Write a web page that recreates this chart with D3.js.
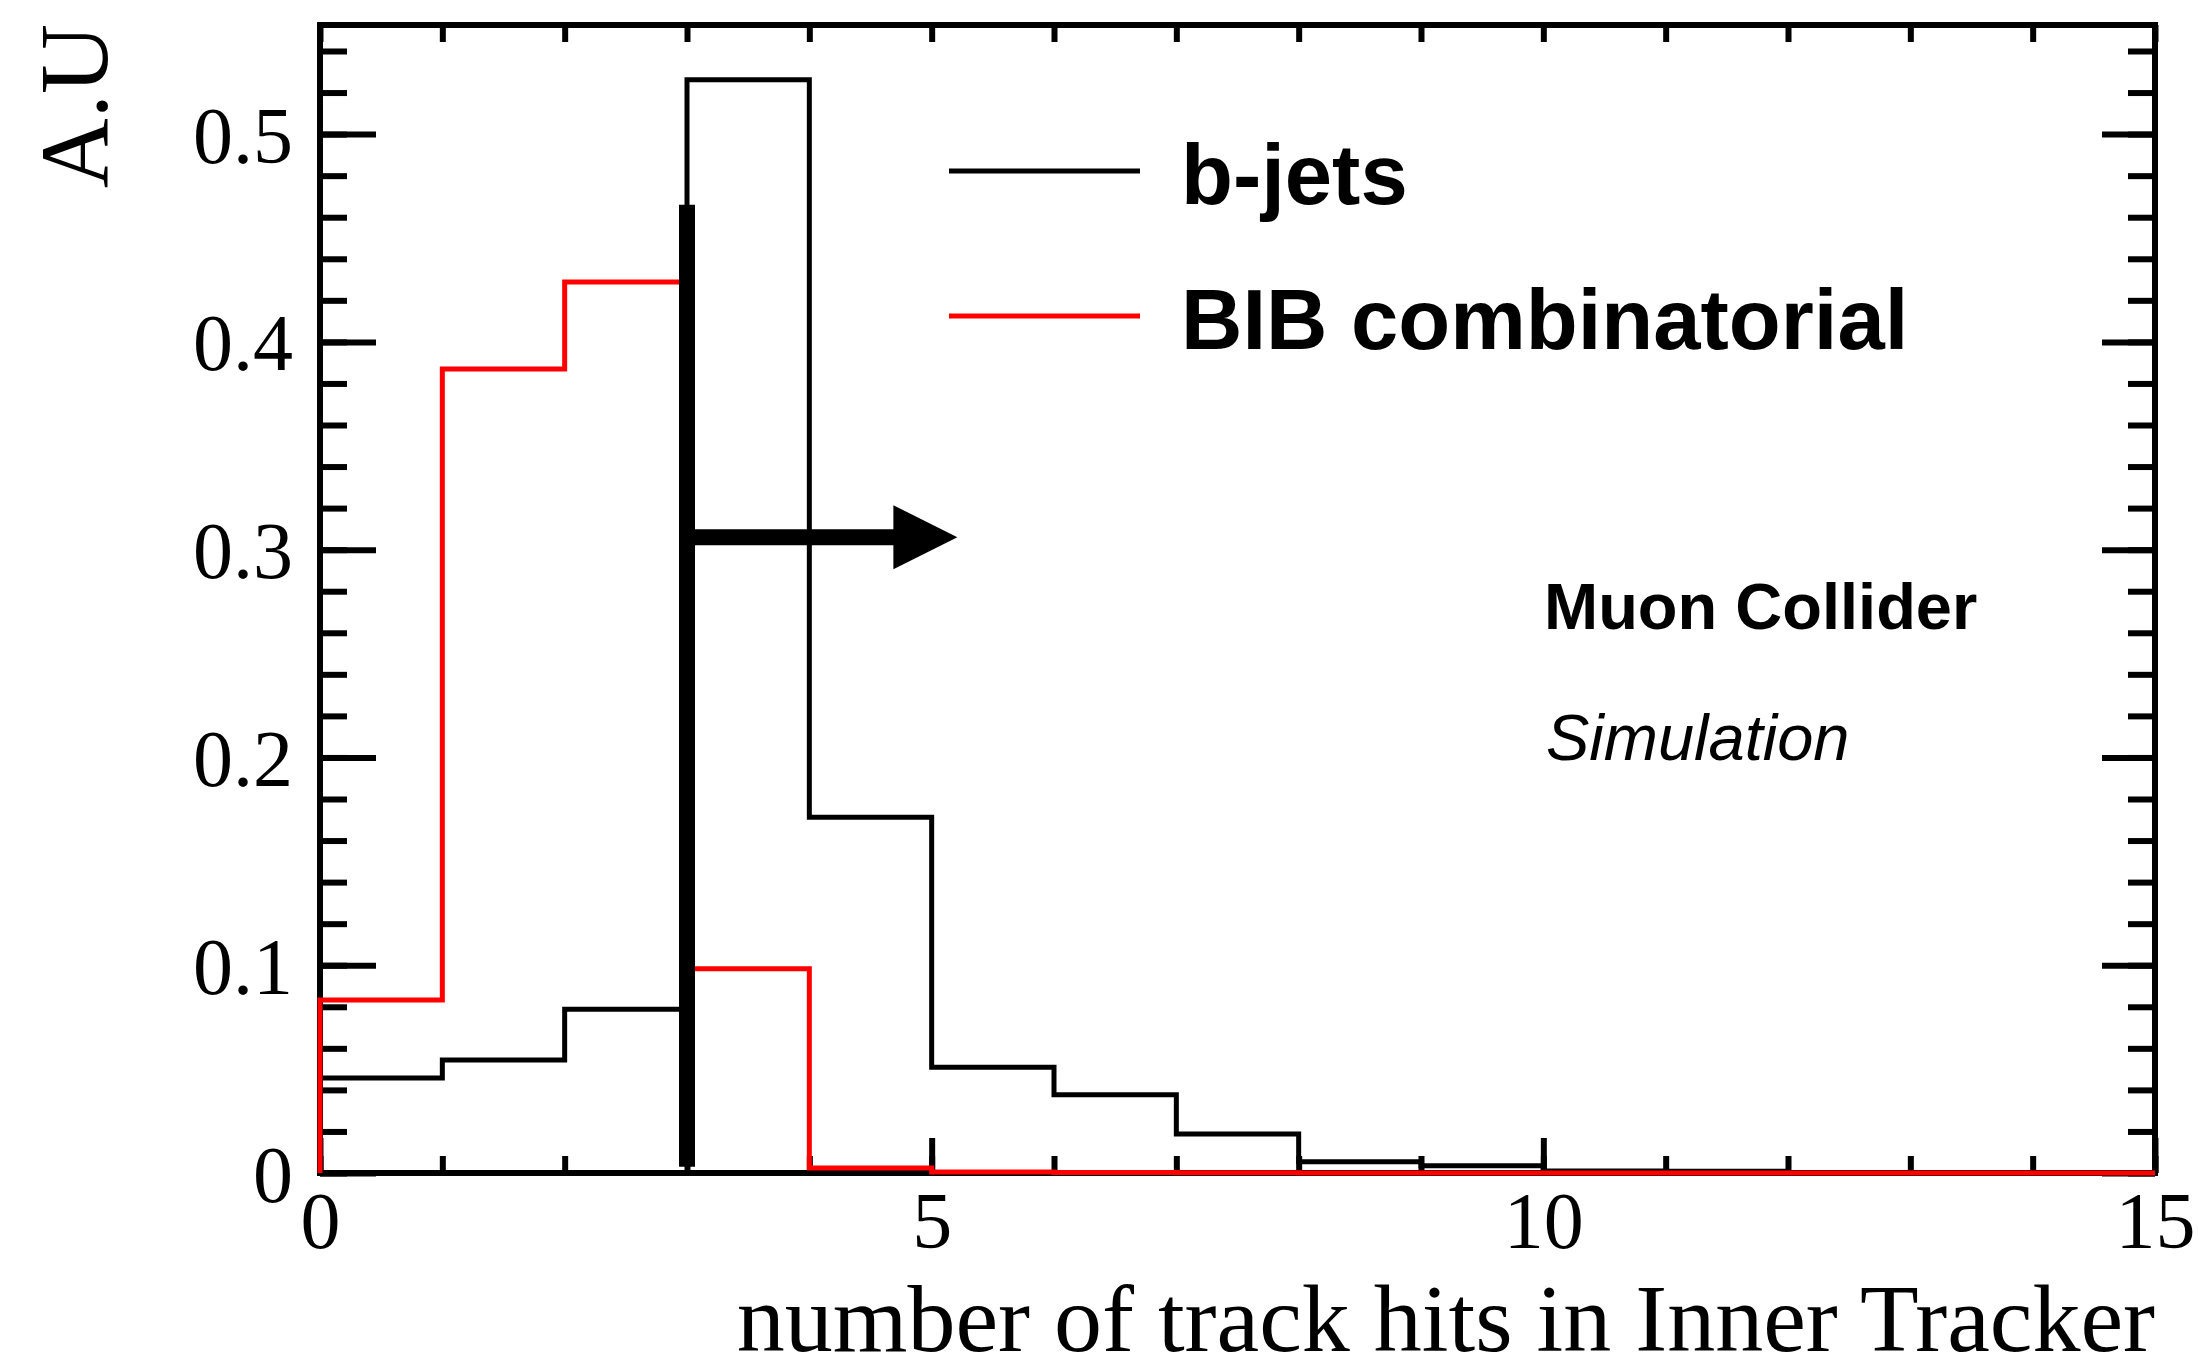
<!DOCTYPE html>
<html>
<head>
<meta charset="utf-8">
<script src="https://cdn.jsdelivr.net/npm/d3@7"></script>
<style>
  body { margin: 0; background: #fff; }
  svg { display: block; }
</style>
</head>
<body>
<svg id="chart"></svg>
<script>
// bin edges 0..15, one entry per unit bin
let binEdges = d3.range(0, 16)
let bjets = [0.0457, 0.0544, 0.0788, 0.5262, 0.1712, 0.0509, 0.0377, 0.0188, 0.0054, 0.0035, 0.0010, 0.0008, 0.0003, 0.0002, 0.0001]
let bib   = [0.0833, 0.3870, 0.4288, 0.0983, 0.0024, 0.0005, 0.0002, 0.0001, 0, 0, 0, 0, 0, 0, 0]

let xMajor = [0, 5, 10, 15]
let xLabels = ['0', '5', '10', '15']
let yMajor = [0, 0.1, 0.2, 0.3, 0.4, 0.5]
let yLabels = ['0', '0.1', '0.2', '0.3', '0.4', '0.5']

// cut line and arrow
let cutX = 3
let cutY = [0.003, 0.466]
let arrowY = 0.306
let arrowEnd = 5.21

let legendNames = ['b-jets', 'BIB combinatorial']
let legendColors = ['#000', '#ff0000']

let width = 2198
let height = 1372
let pLeft = 320, pRight = 2155, pTop = 25, pBottom = 1173

let yMax = d3.max(bjets.concat(bib)) * 1.05

let x = d3.scaleLinear().domain([0, 15]).range([pLeft, pRight])
let y = d3.scaleLinear().domain([0, yMax]).range([pBottom, pTop])

let svg = d3.select('#chart')
  .attr('width', width)
  .attr('height', height)

let serif = 'Liberation Serif, Times New Roman, serif'
let sans = 'Liberation Sans, Helvetica, Arial, sans-serif'

// ticks, all pointing inward
let styleAxis = (g, w) => {
  g.select('.domain').remove()
  g.selectAll('line').attr('stroke', '#000').attr('stroke-width', w)
}

let yMinor = d3.range(0, 0.56, 0.02).filter(v => v <= yMax)

svg.append('g')
  .attr('transform', `translate(${pLeft},0)`)
  .call(d3.axisLeft(y).tickValues(yMinor).tickFormat('').tickSizeInner(-27).tickSizeOuter(0))
  .call(g => styleAxis(g, 6))

svg.append('g')
  .attr('transform', `translate(${pLeft},0)`)
  .call(d3.axisLeft(y).tickValues(yMajor).tickFormat((d, i) => yLabels[i]).tickSizeInner(-56).tickSizeOuter(0).tickPadding(27))
  .call(g => styleAxis(g, 6))
  .call(g => g.selectAll('text')
    .attr('font-family', serif)
    .attr('font-size', 80)
    .attr('fill', '#000')
    .attr('dy', null)
    .attr('y', 28))

svg.append('g')
  .attr('transform', `translate(${pRight},0)`)
  .call(d3.axisRight(y).tickValues(yMinor).tickFormat('').tickSizeInner(-27).tickSizeOuter(0))
  .call(g => styleAxis(g, 6))

svg.append('g')
  .attr('transform', `translate(${pRight},0)`)
  .call(d3.axisRight(y).tickValues(yMajor).tickFormat('').tickSizeInner(-53).tickSizeOuter(0))
  .call(g => styleAxis(g, 6))

let xMinor = binEdges

svg.append('g')
  .attr('transform', `translate(0,${pBottom})`)
  .call(d3.axisBottom(x).tickValues(xMinor).tickFormat('').tickSizeInner(-17).tickSizeOuter(0))
  .call(g => styleAxis(g, 6))

svg.append('g')
  .attr('transform', `translate(0,${pBottom})`)
  .call(d3.axisBottom(x).tickValues(xMajor).tickFormat((d, i) => xLabels[i]).tickSizeInner(-35).tickSizeOuter(0).tickPadding(75))
  .call(g => styleAxis(g, 6))
  .call(g => g.selectAll('text')
    .attr('font-family', serif)
    .attr('font-size', 80)
    .attr('fill', '#000')
    .attr('dy', null))

svg.append('g')
  .attr('transform', `translate(0,${pTop})`)
  .call(d3.axisTop(x).tickValues(xMinor).tickFormat('').tickSizeInner(-17).tickSizeOuter(0))
  .call(g => styleAxis(g, 6))

// frame
svg.append('rect')
  .attr('x', pLeft)
  .attr('y', pTop)
  .attr('width', pRight - pLeft)
  .attr('height', pBottom - pTop)
  .attr('fill', 'none')
  .attr('stroke', '#000')
  .attr('stroke-width', 6)

// histogram outlines
let histLine = d3.line()
  .x(d => x(d[0]))
  .y(d => y(d[1]))
  .curve(d3.curveStepAfter)

let histPoints = vals => {
  let pts = [[0, 0]]
  vals.forEach((v, i) => pts.push([binEdges[i], v]))
  pts.push([15, vals[vals.length - 1]])
  pts.push([15, 0])
  return pts
}

svg.append('path')
  .attr('d', histLine(histPoints(bjets)))
  .attr('fill', 'none')
  .attr('stroke', legendColors[0])
  .attr('stroke-width', 5)

svg.append('path')
  .attr('d', histLine(histPoints(bib)))
  .attr('fill', 'none')
  .attr('stroke', legendColors[1])
  .attr('stroke-width', 5)

// cut line and arrow
svg.append('line')
  .attr('x1', x(cutX))
  .attr('x2', x(cutX))
  .attr('y1', y(cutY[0]))
  .attr('y2', y(cutY[1]))
  .attr('stroke', '#000')
  .attr('stroke-width', 16)

let headLen = 64, headHalf = 32
svg.append('line')
  .attr('x1', x(cutX))
  .attr('x2', x(arrowEnd) - headLen + 2)
  .attr('y1', y(arrowY))
  .attr('y2', y(arrowY))
  .attr('stroke', '#000')
  .attr('stroke-width', 16)

svg.append('path')
  .attr('d', `M${x(arrowEnd)},${y(arrowY)} L${x(arrowEnd) - headLen},${y(arrowY) - headHalf} L${x(arrowEnd) - headLen},${y(arrowY) + headHalf} Z`)
  .attr('fill', '#000')

// legend
let legend = svg.append('g')
legendNames.forEach((name, i) => {
  let ly = 171 + i * 145
  legend.append('line')
    .attr('x1', 949).attr('x2', 1140)
    .attr('y1', ly).attr('y2', ly)
    .attr('stroke', legendColors[i])
    .attr('stroke-width', 5)
  legend.append('text')
    .attr('x', 1181)
    .attr('y', ly + 33)
    .attr('font-family', sans)
    .attr('font-weight', 'bold')
    .attr('font-size', 85)
    .text(name)
})

svg.append('text')
  .attr('x', 1544).attr('y', 629)
  .attr('font-family', sans)
  .attr('font-weight', 'bold')
  .attr('font-size', 65)
  .text('Muon Collider')

svg.append('text')
  .attr('x', 1546).attr('y', 760)
  .attr('font-family', sans)
  .attr('font-style', 'italic')
  .attr('font-size', 65)
  .text('Simulation')

// axis titles
svg.append('text')
  .attr('x', pRight)
  .attr('y', 1351)
  .attr('text-anchor', 'end')
  .attr('font-family', serif)
  .attr('font-size', 96)
  .text('number of track hits in Inner Tracker')

svg.append('text')
  .attr('transform', 'translate(107,24) rotate(-90)')
  .attr('text-anchor', 'end')
  .attr('font-family', serif)
  .attr('font-size', 97)
  .text('A.U')
</script>
</body>
</html>
